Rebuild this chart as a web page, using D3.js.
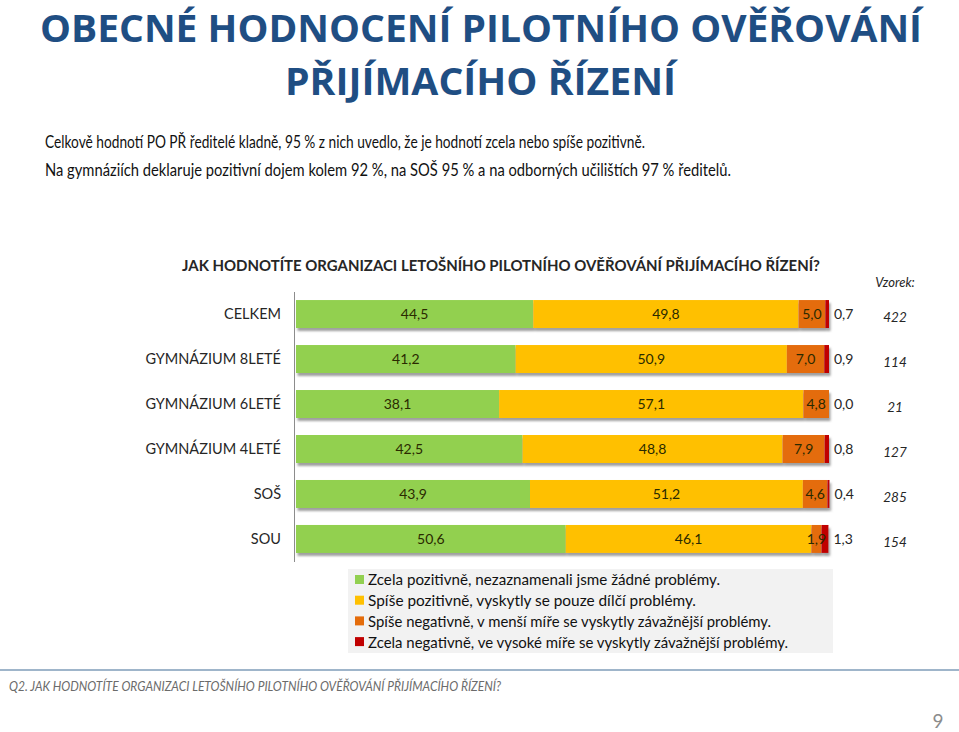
<!DOCTYPE html>
<html><head><meta charset="utf-8">
<script src="https://cdn.jsdelivr.net/npm/d3@7"></script>
<style>
body{margin:0;background:#fff;}
svg{display:block;font-family:Lato,"Open Sans",sans-serif;}
</style></head>
<body><svg id="c" width="959" height="732"></svg>
<script>
const categories = ["CELKEM","GYMNÁZIUM 8LETÉ","GYMNÁZIUM 6LETÉ","GYMNÁZIUM 4LETÉ","SOŠ","SOU"];
const zcelaPoz = [44.5, 41.2, 38.1, 42.5, 43.9, 50.6];
const spisePoz = [49.8, 50.9, 57.1, 48.8, 51.2, 46.1];
const spiseNeg = [5.0, 7.0, 4.8, 7.9, 4.6, 1.9];
const zcelaNeg = [0.7, 0.9, 0.0, 0.8, 0.4, 1.3];
const sampleSizes = [422, 114, 21, 127, 285, 154];
const seriesNames = [
  "Zcela pozitivně, nezaznamenali jsme žádné problémy.",
  "Spíše pozitivně, vyskytly se pouze dílčí problémy.",
  "Spíše negativně, v menší míře se vyskytly závažnější problémy.",
  "Zcela negativně, ve vysoké míře se vyskytly závažnější problémy."
];
const colors = ["#92D050","#FFC000","#E46C0A","#C00000"];
const fmt = v => v.toFixed(1).replace(".", ",");

const svg = d3.select("#c");
const defs = svg.append("defs");
const f = defs.append("filter").attr("id","sh").attr("x","-5%").attr("y","-20%").attr("width","110%").attr("height","160%");
f.append("feDropShadow").attr("dx",1.5).attr("dy",3).attr("stdDeviation",1.2).attr("flood-color","#777").attr("flood-opacity",0.7);

function fitText(sel, w){ sel.attr("textLength", w).attr("lengthAdjust","spacingAndGlyphs"); return sel; }

// Titles
fitText(svg.append("text").attr("x",40).attr("y",42).attr("font-size",38).attr("font-weight",700).attr("font-family","'Open Sans',sans-serif").attr("fill","#1F4E83")
  .text("OBECNÉ HODNOCENÍ PILOTNÍHO OVĚŘOVÁNÍ"), 882);
fitText(svg.append("text").attr("x",285).attr("y",95).attr("font-size",38).attr("font-weight",700).attr("font-family","'Open Sans',sans-serif").attr("fill","#1F4E83")
  .text("PŘIJÍMACÍHO ŘÍZENÍ"), 391);
fitText(svg.append("text").attr("x",45).attr("y",148).attr("font-size",17).attr("fill","#111")
  .text("Celkově hodnotí PO PŘ ředitelé kladně, 95 % z nich uvedlo, že je hodnotí zcela nebo spíše pozitivně."), 600);
fitText(svg.append("text").attr("x",45).attr("y",176).attr("font-size",17).attr("fill","#111")
  .text("Na gymnáziích deklaruje pozitivní dojem kolem 92 %, na SOŠ 95 % a na odborných učilištích 97 % ředitelů."), 686);
fitText(svg.append("text").attr("x",182).attr("y",271).attr("font-size",16).attr("font-weight",700).attr("fill","#262626")
  .text("JAK HODNOTÍTE ORGANIZACI LETOŠNÍHO PILOTNÍHO OVĚŘOVÁNÍ PŘIJÍMACÍHO ŘÍZENÍ?"), 638);
svg.append("text").attr("x",895).attr("y",287).attr("font-size",13).attr("font-style","italic").attr("fill","#262626")
  .attr("text-anchor","middle").text("Vzorek:");

// Scales
const x = d3.scaleLinear().domain([0,100]).range([296, 829]);
const y = d3.scaleBand().domain(categories).range([291.5, 561.5]).paddingInner(0.378).paddingOuter(0.19);

const rows = categories.map((c,i)=>{
  const vals = [zcelaPoz[i], spisePoz[i], spiseNeg[i], zcelaNeg[i]];
  let acc = 0;
  return {cat:c, n:sampleSizes[i], segs: vals.map((v,k)=>{ const s={k, v, x0:acc, x1:acc+v}; acc+=v; return s; })};
});

const g = svg.append("g");
const rowG = g.selectAll("g.row").data(rows).join("g").attr("class","row");
rowG.append("g").attr("filter","url(#sh)").selectAll("rect").data(d=>d.segs.map(s=>({...s,cat:d.cat}))).join("rect")
  .attr("x", s=>x(s.x0)).attr("width", s=>Math.max(0, x(s.x1)-x(s.x0)))
  .attr("y", s=>y(s.cat)).attr("height", y.bandwidth()).attr("fill", s=>colors[s.k]);

// value labels
rowG.selectAll("text.v").data(d=>d.segs.map(s=>({...s,cat:d.cat}))).join("text").attr("class","v")
  .attr("x", s => s.k===3 ? x(s.x1)+5 : (x(s.x0)+x(s.x1))/2)
  .attr("text-anchor", s => s.k===3 ? "start" : "middle")
  .attr("y", s=>y(s.cat)+y.bandwidth()/2).attr("dy","0.36em")
  .attr("font-size",14).attr("fill", s=> s.k===3 ? "#262626" : "#2a2a00")
  .text(s=>fmt(s.v));

// sample sizes
rowG.append("text").attr("x",895).attr("y",d=>y(d.cat)+y.bandwidth()/2+3).attr("dy","0.36em")
  .attr("text-anchor","middle").attr("font-size",13.5).attr("font-style","italic").attr("fill","#262626")
  .text(d=>d.n);

// axis
const ax = svg.append("g").attr("transform","translate(294,0)").call(d3.axisLeft(y).tickSize(0).tickPadding(13));
ax.select(".domain").attr("stroke","#8c8c8c").attr("stroke-width",1);
ax.selectAll("text").attr("font-family","Lato,sans-serif").attr("font-size",14.5).attr("fill","#262626");

// legend
svg.append("rect").attr("x",348).attr("y",569).attr("width",485).attr("height",84).attr("fill","#F2F2F2");
const lg = svg.append("g").selectAll("g").data(seriesNames).join("g")
  .attr("transform",(d,i)=>`translate(355,${580+i*20.7})`);
lg.append("rect").attr("x",0).attr("y",-5).attr("width",9).attr("height",9).attr("fill",(d,i)=>colors[i]);
lg.append("text").attr("x",13).attr("y",0).attr("dy","0.36em").attr("font-size",15).attr("fill","#111")
  .each(function(d,i){ const w=[352,328,403,420][i]; d3.select(this).attr("textLength",w).attr("lengthAdjust","spacingAndGlyphs"); })
  .text(d=>d);

// footer
svg.append("line").attr("x1",0).attr("x2",959).attr("y1",670).attr("y2",670).attr("stroke","#7f9cb8").attr("stroke-width",1.5);
fitText(svg.append("text").attr("x",9).attr("y",691).attr("font-size",12.5).attr("font-style","italic").attr("fill","#6b6b6b")
  .text("Q2. JAK HODNOTÍTE ORGANIZACI LETOŠNÍHO PILOTNÍHO OVĚŘOVÁNÍ PŘIJÍMACÍHO ŘÍZENÍ?"), 492);
svg.append("text").attr("x",938).attr("y",728).attr("font-size",19).attr("fill","#8c8c8c").attr("text-anchor","middle").text("9");
</script></body></html>
